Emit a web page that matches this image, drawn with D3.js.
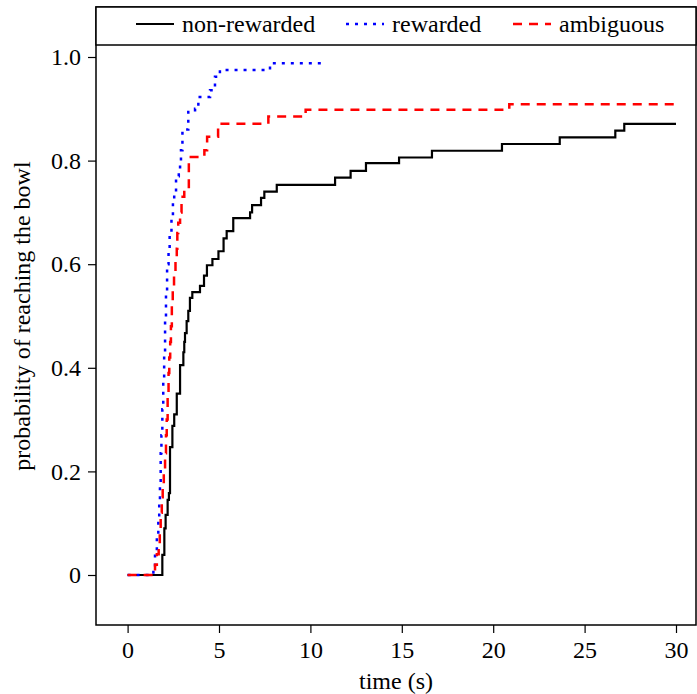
<!DOCTYPE html>
<html>
<head>
<meta charset="utf-8">
<script src="https://cdn.jsdelivr.net/npm/d3@7"></script>
</head>
<body style="margin:0">
<div id="chart"></div>
<script>
// step change points (time in s, probability)
var nonRewardedTime = [0, 1.90, 2.01, 2.08, 2.19, 2.26, 2.32, 2.45, 2.55, 2.69, 2.87, 3.05, 3.10, 3.14, 3.23, 3.32, 3.41, 3.54, 3.96, 4.18, 4.34, 4.64, 4.97, 5.25, 5.42, 5.78, 6.70, 6.81, 7.30, 7.48, 8.16, 11.35, 12.2, 13.04, 14.85, 16.65, 20.48, 23.64, 26.68, 27.17, 30];
var nonRewardedProb = [0, 0.039, 0.09, 0.116, 0.145, 0.158, 0.247, 0.288, 0.31, 0.35, 0.405, 0.43, 0.45, 0.467, 0.49, 0.51, 0.535, 0.546, 0.558, 0.578, 0.598, 0.61, 0.625, 0.65, 0.664, 0.689, 0.70, 0.714, 0.728, 0.74, 0.753, 0.767, 0.78, 0.795, 0.806, 0.819, 0.832, 0.845, 0.858, 0.871, 0.871];

var rewardedTime = [0, 1.41, 1.50, 1.60, 1.68, 1.73, 1.77, 1.81, 1.85, 1.90, 1.95, 2.00, 2.05, 2.10, 2.16, 2.24, 2.30, 2.40, 2.48, 2.55, 2.65, 2.80, 2.87, 2.92, 3.0, 3.32, 3.69, 3.87, 4.51, 4.78, 5.05, 7.79, 10.7];
var rewardedProb = [0, 0.015, 0.045, 0.075, 0.106, 0.14, 0.17, 0.235, 0.27, 0.32, 0.38, 0.43, 0.49, 0.54, 0.60, 0.63, 0.66, 0.69, 0.72, 0.74, 0.77, 0.782, 0.80, 0.82, 0.86, 0.894, 0.90, 0.923, 0.936, 0.962, 0.975, 0.988, 0.988];

var ambiguousTime = [0, 1.50, 1.60, 1.70, 1.76, 1.81, 1.87, 1.92, 1.98, 2.05, 2.10, 2.14, 2.19, 2.24, 2.28, 2.33, 2.37, 2.42, 2.47, 2.54, 2.62, 2.69, 2.72, 2.77, 2.87, 2.95, 3.01, 3.10, 3.35, 4.2, 4.35, 4.95, 7.7, 9.74, 20.88, 30];
var ambiguousProb = [0, 0.02, 0.04, 0.06, 0.09, 0.12, 0.15, 0.175, 0.20, 0.235, 0.27, 0.30, 0.35, 0.39, 0.42, 0.45, 0.48, 0.52, 0.55, 0.58, 0.61, 0.63, 0.66, 0.68, 0.70, 0.72, 0.73, 0.745, 0.807, 0.82, 0.846, 0.871, 0.885, 0.898, 0.909, 0.909];

var xTicks = [0, 5, 10, 15, 20, 25, 30];
var yTicks = [0, 0.2, 0.4, 0.6, 0.8, 1.0];
var yTickLabels = ["0", "0.2", "0.4", "0.6", "0.8", "1.0"];
var seriesNames = ["non-rewarded", "rewarded", "ambiguous"];

var width = 697, height = 694;
var box = {left: 96, right: 696, top: 7, bottom: 625};
var serif = "'Liberation Serif', Tinos, 'Times New Roman'";

var svg = d3.select("#chart")
  .append("svg")
    .attr("width", width)
    .attr("height", height)
    .style("font-family", serif, "important");

var x = d3.scaleLinear().domain([0, 30]).range([127.6, 676]);
var y = d3.scaleLinear().domain([0, 1]).range([575, 57]);

// plot frame
svg.append("rect")
  .attr("x", box.left).attr("y", box.top)
  .attr("width", box.right - box.left).attr("height", box.bottom - box.top)
  .attr("fill", "none").attr("stroke", "#000").attr("stroke-width", 1.5);

// X axis
var xAxis = svg.append("g")
  .attr("transform", "translate(0," + box.bottom + ")")
  .call(d3.axisBottom(x).tickValues(xTicks).tickSize(8).tickPadding(8).tickSizeOuter(0));
xAxis.select(".domain").remove();

// Y axis
var yAxis = svg.append("g")
  .attr("transform", "translate(" + box.left + ",0)")
  .call(d3.axisLeft(y).tickValues(yTicks).tickFormat(function(d, i) { return yTickLabels[i]; })
    .tickSize(8).tickPadding(7).tickSizeOuter(0));
yAxis.select(".domain").remove();
svg.selectAll(".tick line").attr("stroke-width", 1.2);
svg.selectAll("g").attr("font-family", null).attr("font-size", null);

// axis titles
svg.append("text")
  .attr("x", (box.left + box.right) / 2)
  .attr("y", 689)
  .attr("text-anchor", "middle")
  .text("time (s)");

svg.append("text")
  .attr("transform", "translate(30," + ((box.top + box.bottom) / 2) + ")rotate(-90)")
  .attr("text-anchor", "middle")
  .text("probability of reaching the bowl");

// curves
var line = d3.line()
  .x(function(d) { return x(d[0]); })
  .y(function(d) { return y(d[1]); })
  .curve(d3.curveStepAfter);

var series = [
  {time: nonRewardedTime, prob: nonRewardedProb, color: "#000", dash: null, w: 2.2},
  {time: rewardedTime, prob: rewardedProb, color: "#0000ff", dash: "3,6", w: 2.5},
  {time: ambiguousTime, prob: ambiguousProb, color: "#ff0000", dash: "9,7", w: 2.5}
];

svg.selectAll("path.curve")
  .data(series)
  .enter()
  .append("path")
    .attr("class", "curve")
    .attr("d", function(s) { return line(d3.zip(s.time, s.prob)); })
    .attr("fill", "none")
    .attr("stroke", function(s) { return s.color; })
    .attr("stroke-width", function(s) { return s.w; })
    .attr("stroke-dasharray", function(s) { return s.dash; });

// legend strip
svg.append("rect")
  .attr("x", box.left).attr("y", box.top)
  .attr("width", box.right - box.left).attr("height", 45 - box.top)
  .attr("fill", "#fff").attr("stroke", "#000").attr("stroke-width", 1.5);

var legendX = [136, 346, 513];
var legend = svg.selectAll("g.legend")
  .data(series)
  .enter()
  .append("g")
    .attr("class", "legend")
    .attr("transform", function(d, i) { return "translate(" + legendX[i] + ",24)"; });

legend.append("line")
  .attr("x1", 0).attr("x2", 38).attr("y1", 0).attr("y2", 0)
  .attr("stroke", function(s) { return s.color; })
  .attr("stroke-width", function(s) { return s.w; })
  .attr("stroke-dasharray", function(s) { return s.dash; });

legend.append("text")
  .attr("x", 46).attr("y", 8)
  .text(function(d, i) { return seriesNames[i]; });

// serif type everywhere, set on each text
svg.selectAll("text")
  .style("font-family", serif, "important")
  .style("font-size", "24px")
  .attr("fill", "#000");
</script>
</body>
</html>
